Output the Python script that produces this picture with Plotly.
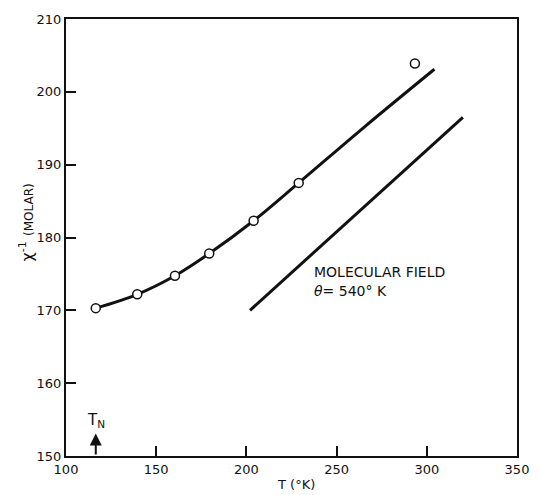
import plotly.graph_objects as go

# measured points (T in K, inverse susceptibility per mole)
T_points = [116.5, 139.5, 160.4, 179.4, 204.0, 229.0, 293.4]
chi_inv_points = [170.3, 172.2, 174.75, 177.8, 182.3, 187.5, 203.9]

# smooth experimental curve nodes
T_curve = [116.5, 139.5, 160.4, 179.4, 204.0, 229.0, 266.0, 304.2]
chi_inv_curve = [170.3, 172.2, 174.75, 177.8, 182.3, 187.5, 195.3, 203.1]

# molecular field line (theta = 540 K)
T_mf = [202.0, 320.0]
chi_inv_mf = [170.0, 196.5]

x_ticks = [100, 150, 200, 250, 300, 350]
y_ticks = [150, 160, 170, 180, 190, 200, 210]

T_N = 116.5

font_main = "DejaVu Sans, Liberation Sans, sans-serif"
ink = "#111111"

fig = go.Figure()
fig.add_trace(go.Scatter(x=T_curve, y=chi_inv_curve, mode="lines",
                         line=dict(color=ink, width=3, shape="spline", smoothing=1.0),
                         showlegend=False, hoverinfo="skip"))
fig.add_trace(go.Scatter(x=T_mf, y=chi_inv_mf, mode="lines",
                         line=dict(color=ink, width=3),
                         showlegend=False, hoverinfo="skip"))
fig.add_trace(go.Scatter(x=T_points, y=chi_inv_points, mode="markers",
                         marker=dict(symbol="circle", size=9, color="white",
                                     line=dict(color=ink, width=1.5)),
                         showlegend=False))

fig.update_xaxes(range=[100, 350], tickvals=x_ticks, ticks="inside", ticklen=10,
                 tickwidth=1.5, tickcolor=ink, showline=True, linecolor=ink, linewidth=2,
                 mirror=True, showgrid=False, zeroline=False,
                 tickfont=dict(family=font_main, size=13, color=ink))
fig.update_yaxes(range=[150, 210], tickvals=y_ticks, ticks="inside", ticklen=10,
                 tickwidth=1.5, tickcolor=ink, showline=True, linecolor=ink, linewidth=2,
                 mirror=True, showgrid=False, zeroline=False,
                 tickfont=dict(family=font_main, size=13, color=ink))

annotations = [
    dict(x=236.5, y=175.3, xref="x", yref="y", text="MOLECULAR FIELD",
         showarrow=False, xanchor="left", yanchor="middle",
         font=dict(family=font_main, size=14, color=ink)),
    dict(x=236.5, y=172.6, xref="x", yref="y", text="<i>θ</i>= 540° K",
         showarrow=False, xanchor="left", yanchor="middle",
         font=dict(family=font_main, size=14, color=ink)),
    dict(x=T_N, y=153.1, ax=T_N, ay=150, xref="x", yref="y", axref="x", ayref="y",
         text="", showarrow=True, arrowhead=2, arrowsize=1.2, arrowwidth=2,
         arrowcolor=ink),
    dict(x=T_N, y=153.3, xref="x", yref="y", text="T<sub>N</sub>",
         showarrow=False, xanchor="center", yanchor="bottom",
         font=dict(family=font_main, size=15, color=ink)),
    dict(x=-0.088, y=0.535, xref="paper", yref="paper", textangle=-90,
         text="χ<sup>-1</sup> <span style='font-size:12px'>(MOLAR)</span>",
         showarrow=False, xanchor="center", yanchor="middle",
         font=dict(family=font_main, size=16, color=ink)),
    dict(x=0.51, y=-0.087, xref="paper", yref="paper",
         text="T (°K)",
         showarrow=False, xanchor="center", yanchor="bottom",
         font=dict(family=font_main, size=13, color=ink)),
]
fig.update_layout(width=541, height=495, margin=dict(l=65.5, r=14.5, t=19, b=38.5),
                  paper_bgcolor="white", plot_bgcolor="white",
                  annotations=annotations)

fig.write_html("out.html")
